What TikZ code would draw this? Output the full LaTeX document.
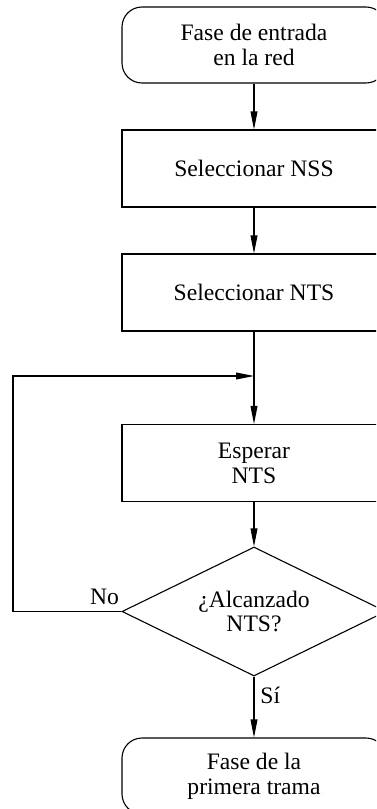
\documentclass[tikz,border=0pt]{standalone}
\usepackage{fontspec}
\setmainfont{Liberation Serif}
\usetikzlibrary{shapes.geometric,arrows.meta}
\begin{document}
\begin{tikzpicture}[x=0.5pt,y=-0.5pt,
  font=\fontsize{11.8pt}{12.4pt}\selectfont,
  every node/.style={align=center, inner sep=0pt},
  line/.style={draw, line width=0.55pt},
  arr/.style={line, -{Triangle[length=9pt,width=3.4pt]}},
  terminal/.style={line, rounded corners=10pt, minimum width=132pt, minimum height=38pt},
  process/.style={line, minimum width=132pt, minimum height=38.5pt},
  decision/.style={line, diamond, shape aspect=2, minimum width=132pt, minimum height=64.5pt}
]
\useasboundingbox (0,0) rectangle (376,809);
\clip (0,0) rectangle (376,809);

% flow steps
\node[terminal] (start) at (254,45) {Fase de entrada\\en la red};
\node[process]  (nss)   at (254,168.5) {Seleccionar NSS};
\node[process]  (nts)   at (254,292.5) {Seleccionar NTS};
\node[process]  (wait)  at (254,463) {Esperar\\NTS};
\node[decision] (check) at (254,611.5) {¿Alcanzado\\NTS?};
\node[terminal] (frame) at (254,776) {Fase de la\\primera trama};

% loop-back route
\coordinate (join) at (254,376);
\coordinate (lowL) at (13,611.5);
\coordinate (upL)  at (13,376);

% connectors
\draw[arr] (start) -- (nss);
\draw[arr] (nss) -- (nts);
\draw[line] (nts) -- (join);
\draw[arr] (join) -- (wait);
\draw[arr] (wait) -- (check);
\draw[arr] (check) -- (frame);
\draw[arr] (check.west) -- (lowL) -- (upL) -- (join);

% branch labels
\node[anchor=south east] (no) at ([xshift=-1pt,yshift=3pt]check.west) {No};
\node[anchor=north west] (yes) at ([xshift=3pt,yshift=-5pt]check.south) {Sí};
\end{tikzpicture}
\end{document}
